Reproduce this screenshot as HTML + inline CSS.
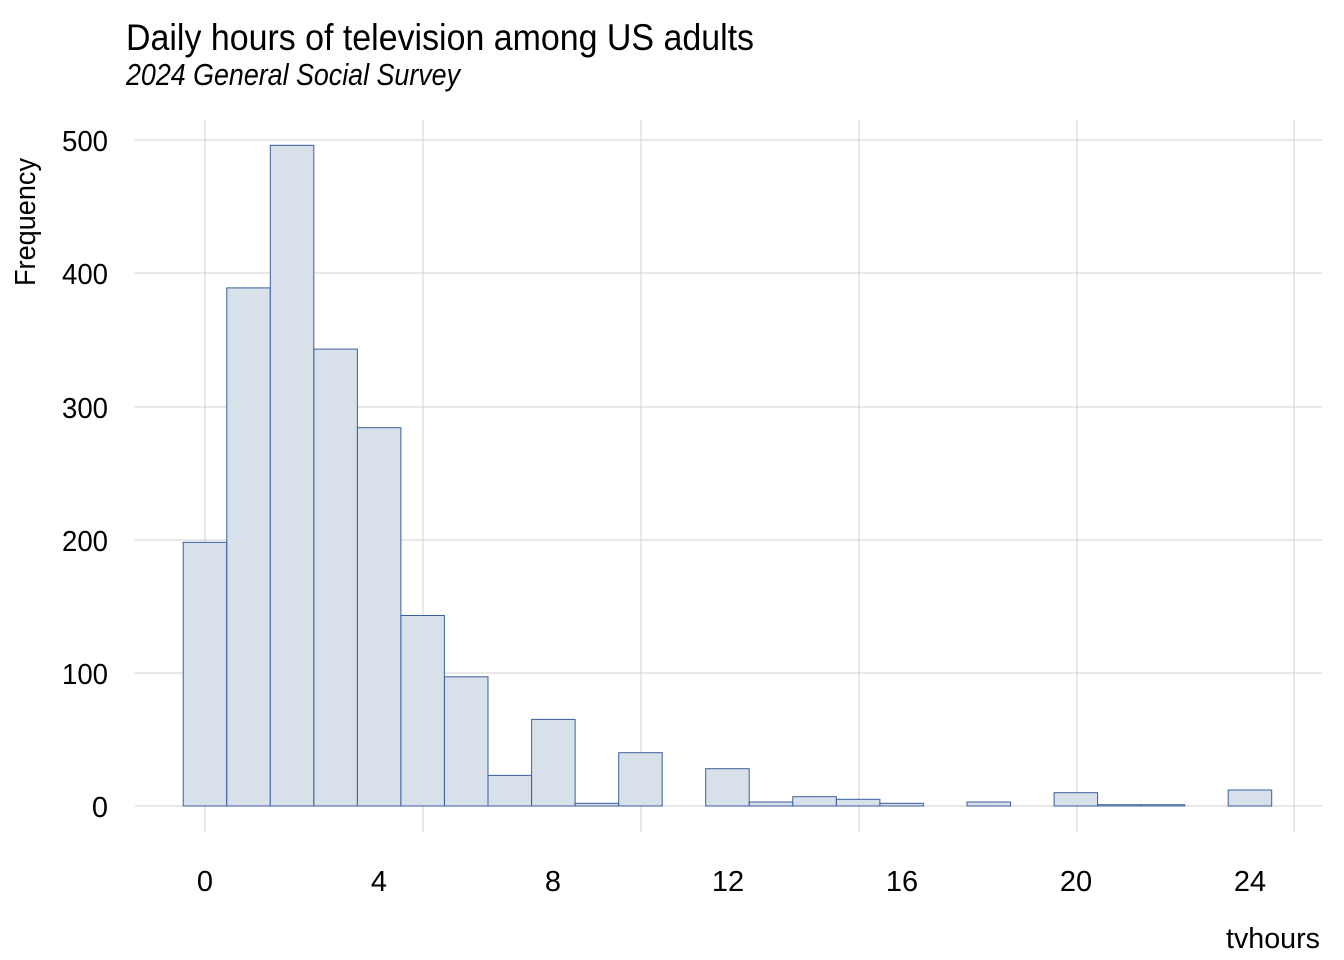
<!DOCTYPE html>
<html><head><meta charset="utf-8"><style>body{margin:0;background:#fff}svg{display:block}text{font-family:"Liberation Sans Narrow","Liberation Sans",sans-serif;fill:#000}</style></head><body>
<svg width="1344" height="960" viewBox="0 0 1344 960" xmlns="http://www.w3.org/2000/svg">
<g stroke="#d0d0d0" stroke-width="1">
<line x1="135" x2="1322" y1="140" y2="140"/><line x1="135" x2="1322" y1="273" y2="273"/><line x1="135" x2="1322" y1="407" y2="407"/><line x1="135" x2="1322" y1="540" y2="540"/><line x1="135" x2="1322" y1="673" y2="673"/><line x1="135" x2="1322" y1="806" y2="806"/>
<line y1="120" y2="832" x1="205" x2="205"/><line y1="120" y2="832" x1="423" x2="423"/><line y1="120" y2="832" x1="641" x2="641"/><line y1="120" y2="832" x1="859" x2="859"/><line y1="120" y2="832" x1="1077" x2="1077"/><line y1="120" y2="832" x1="1294" x2="1294"/>
</g>
<g fill="#d8e0e9" stroke="#3a5f9e" stroke-width="1">
<rect x="183.2" y="542.3" width="43.5" height="263.7"/>
<rect x="226.8" y="287.9" width="43.5" height="518.1"/>
<rect x="270.3" y="145.3" width="43.5" height="660.7"/>
<rect x="313.9" y="349.1" width="43.5" height="456.9"/>
<rect x="357.4" y="427.7" width="43.5" height="378.3"/>
<rect x="400.9" y="615.5" width="43.5" height="190.5"/>
<rect x="444.5" y="676.8" width="43.5" height="129.2"/>
<rect x="488.0" y="775.4" width="43.5" height="30.6"/>
<rect x="531.6" y="719.4" width="43.5" height="86.6"/>
<rect x="575.1" y="803.3" width="43.5" height="2.7"/>
<rect x="618.7" y="752.7" width="43.5" height="53.3"/>
<rect x="705.7" y="768.7" width="43.5" height="37.3"/>
<rect x="749.3" y="802" width="43.5" height="4"/>
<rect x="792.8" y="796.7" width="43.5" height="9.3"/>
<rect x="836.4" y="799.3" width="43.5" height="6.7"/>
<rect x="879.9" y="803.3" width="43.5" height="2.7"/>
<rect x="967.0" y="802" width="43.5" height="4"/>
<rect x="1054.1" y="792.7" width="43.5" height="13.3"/>
<rect x="1097.6" y="804.7" width="43.5" height="1.3"/>
<rect x="1141.2" y="804.7" width="43.5" height="1.3"/>
<rect x="1228.2" y="790" width="43.5" height="16"/>
</g>
<text x="126" y="50" font-size="37" textLength="628" lengthAdjust="spacingAndGlyphs">Daily hours of television among US adults</text>
<text x="126" y="85" font-size="31" font-style="italic" textLength="334" lengthAdjust="spacingAndGlyphs">2024 General Social Survey</text>
<g font-size="29" text-anchor="end">
<text x="108" y="151" textLength="46" lengthAdjust="spacingAndGlyphs">500</text><text x="108" y="284" textLength="46" lengthAdjust="spacingAndGlyphs">400</text><text x="108" y="418" textLength="46" lengthAdjust="spacingAndGlyphs">300</text><text x="108" y="551" textLength="46" lengthAdjust="spacingAndGlyphs">200</text><text x="108" y="684" textLength="46" lengthAdjust="spacingAndGlyphs">100</text><text x="108" y="817">0</text>
</g>
<g font-size="29" text-anchor="middle">
<text x="205" y="891">0</text><text x="379" y="891">4</text><text x="553" y="891">8</text><text x="728" y="891">12</text><text x="902" y="891">16</text><text x="1076" y="891">20</text><text x="1250" y="891">24</text>
</g>
<text x="1320" y="948" font-size="29" text-anchor="end" textLength="94" lengthAdjust="spacingAndGlyphs">tvhours</text>
<text transform="translate(35,222) rotate(-90)" font-size="29" text-anchor="middle" textLength="128" lengthAdjust="spacingAndGlyphs">Frequency</text>
</svg></body></html>
